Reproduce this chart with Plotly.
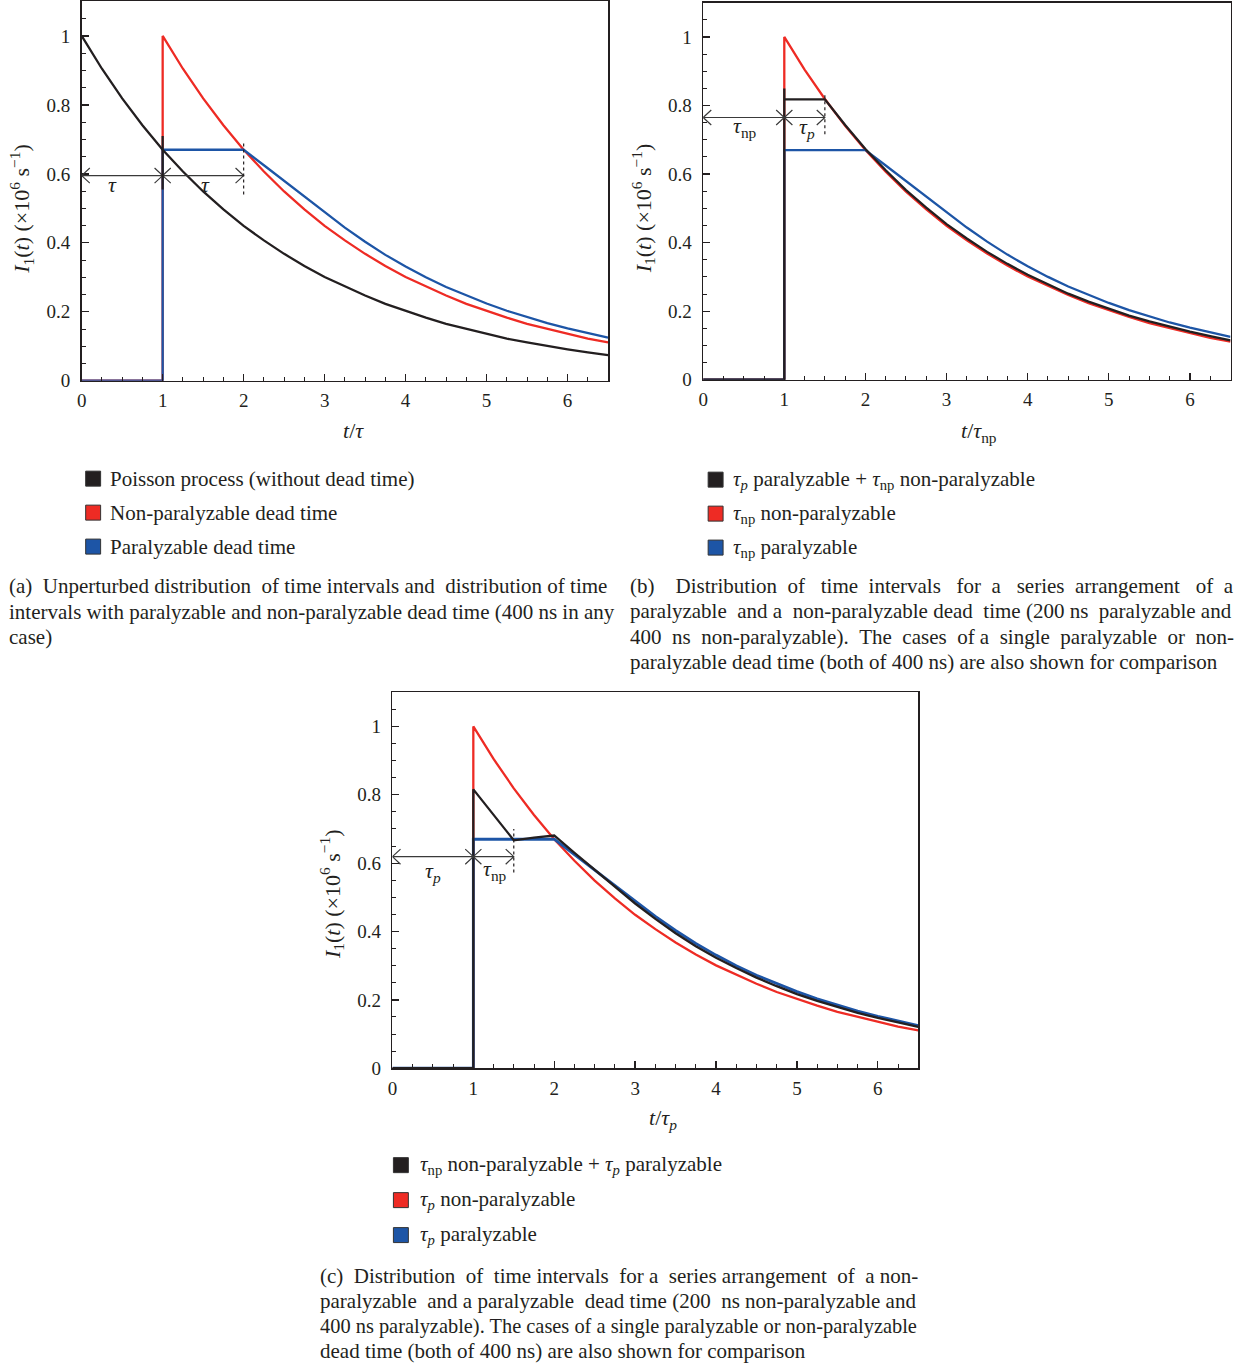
import plotly.graph_objects as go

W, H = 1235, 1367          # reference picture size (pixels)
H_FIG = 1378               # figure height used for the page
FONT = "Liberation Serif"
AX = "#231f20"
TXT = "#231f20"
BLACK = "#231f20"
RED = "#ee2b24"
BLUE = "#1d55a6"
NB = "\u00a0"

# ---------------- data ----------------
# Poisson process, no dead time (panel a)
t_poisson = [0, 0.25, 0.5, 0.75, 1, 1.25, 1.5, 1.75, 2, 2.25, 2.5, 2.75, 3, 3.25,
             3.5, 3.75, 4, 4.25, 4.5, 4.75, 5, 5.25, 5.5, 5.75, 6, 6.25, 6.5]
i_poisson = [1.000, 0.905, 0.819, 0.741, 0.670, 0.607, 0.549, 0.497, 0.449, 0.407,
             0.368, 0.333, 0.301, 0.273, 0.247, 0.223, 0.202, 0.183, 0.165, 0.150,
             0.135, 0.122, 0.111, 0.100, 0.091, 0.082, 0.074]

# Non-paralyzable dead time, 400 ns (all panels)
t_nonpar = [0, 1, 1, 1.25, 1.5, 1.75, 2, 2.25, 2.5, 2.75, 3, 3.25, 3.5, 3.75, 4,
            4.25, 4.5, 4.75, 5, 5.25, 5.5, 5.75, 6, 6.25, 6.5]
i_nonpar = [0, 0, 1.000, 0.905, 0.819, 0.741, 0.670, 0.607, 0.549, 0.497, 0.449,
            0.407, 0.368, 0.333, 0.301, 0.273, 0.247, 0.223, 0.202, 0.183, 0.165,
            0.150, 0.135, 0.122, 0.111]

# Paralyzable dead time, 400 ns (all panels)
t_par = [0, 1, 1, 2, 2.25, 2.5, 2.75, 3, 3.25, 3.5, 3.75, 4, 4.25, 4.5, 4.75, 5,
         5.25, 5.5, 5.75, 6, 6.25, 6.5]
i_par = [0, 0, 0.670, 0.670, 0.625, 0.580, 0.535, 0.490, 0.444, 0.403, 0.365,
         0.331, 0.300, 0.272, 0.247, 0.224, 0.203, 0.184, 0.167, 0.152, 0.138, 0.125]

# Paralyzable 200 ns + non-paralyzable 400 ns (panel b)
t_p_np = [0, 1, 1, 1, 1.5, 1.75, 2, 2.25, 2.5, 2.75, 3, 3.25, 3.5, 3.75, 4, 4.25,
          4.5, 4.75, 5, 5.25, 5.5, 5.75, 6, 6.25, 6.5]
i_p_np = [0, 0, 0.850, 0.818, 0.818, 0.743, 0.673, 0.611, 0.553, 0.502, 0.454,
          0.412, 0.373, 0.338, 0.306, 0.278, 0.251, 0.228, 0.207, 0.187, 0.170,
          0.154, 0.140, 0.127, 0.115]

# Non-paralyzable 200 ns + paralyzable 400 ns (panel c)
t_np_p = [0, 1, 1, 1.5, 1.75, 2, 2.25, 2.5, 2.75, 3, 3.25, 3.5, 3.75, 4, 4.25,
          4.5, 4.75, 5, 5.25, 5.5, 5.75, 6, 6.25, 6.5]
i_np_p = [0, 0, 0.816, 0.667, 0.675, 0.681, 0.630, 0.580, 0.530, 0.482, 0.437,
          0.395, 0.357, 0.323, 0.293, 0.265, 0.240, 0.217, 0.197, 0.179, 0.162,
          0.147, 0.133, 0.121]

x_ticks = [0, 1, 2, 3, 4, 5, 6]
y_ticks = [0, 0.2, 0.4, 0.6, 0.8, 1]
y_tick_text = ["0", "0.2", "0.4", "0.6", "0.8", "1"]

legend_a = ["Poisson process (without dead time)",
            "Non-paralyzable dead time",
            "Paralyzable dead time"]
legend_b = ["<i>τ<sub>p</sub></i> paralyzable + <i>τ</i><sub>np</sub> non-paralyzable",
            "<i>τ</i><sub>np</sub> non-paralyzable",
            "<i>τ</i><sub>np</sub> paralyzable"]
legend_c = ["<i>τ</i><sub>np</sub> non-paralyzable + <i>τ<sub>p</sub></i> paralyzable",
            "<i>τ<sub>p</sub></i> non-paralyzable",
            "<i>τ<sub>p</sub></i> paralyzable"]
legend_colors = [BLACK, RED, BLUE]

# caption lines with number of extra (non-breaking) spaces used to mimic justification
caption_a = [("(a)  Unperturbed distribution of time intervals and distribution of time", 3),
             ("intervals with paralyzable and non-paralyzable dead time (400 ns in any", 0),
             ("case)", 0)]
caption_b = [("(b)  Distribution of time intervals for a series arrangement of a", 17),
             ("paralyzable and a non-paralyzable dead time (200 ns paralyzable and", 4),
             ("400 ns non-paralyzable). The cases of a single paralyzable or non-", 9),
             ("paralyzable dead time (both of 400 ns) are also shown for comparison", 0)]
caption_c = [("(c)  Distribution of time intervals for a series arrangement of a non-", 7),
             ("paralyzable and a paralyzable dead time (200 ns non-paralyzable and", 3),
             ("400 ns paralyzable). The cases of a single paralyzable or non-paralyzable", 0),
             ("dead time (both of 400 ns) are also shown for comparison", 0)]

y_title = "<i>I</i><sub>1</sub>(<i>t</i>) (×10<sup>6</sup> s<sup>−1</sup>)"
x_titles = ["<i>t</i>/<i>τ</i>", "<i>t</i>/<i>τ</i><sub>np</sub>", "<i>t</i>/<i>τ<sub>p</sub></i>"]


def justify(text, extra):
    words = text.split(" ")
    gaps = len(words) - 1
    if gaps <= 0 or extra <= 0:
        return text.replace("  ", " " + NB)
    add = [0] * gaps
    for j in range(extra):
        add[(j * gaps) // extra if extra >= gaps else round(j * gaps / extra) % gaps] += 1
    out = words[0]
    for g in range(gaps):
        w = words[g + 1]
        if w == "":
            out += NB
            continue
        out += " " + NB * add[g] + w
    return out


# ---------------- layout geometry (pixels of the reference) ----------------
def px(x):
    return x / W


def py(y):
    return 1 - y / H


panels = [
    dict(x0=77, x1=605.5, y0=380, y1=0.5),
    dict(x0=701, x1=1230.5, y0=379, y1=1.7),
    dict(x0=389, x1=917, y0=1068, y1=691.8),
]

fig = go.Figure()


def add_line(x, y, color, k, width=2.3):
    sfx = "" if k == 0 else str(k + 1)
    fig.add_trace(go.Scatter(x=x, y=y, mode="lines", line=dict(color=color, width=width),
                             xaxis="x" + sfx, yaxis="y" + sfx, showlegend=False,
                             hoverinfo="skip"))


# panel a
add_line(t_nonpar, i_nonpar, RED, 0)
add_line(t_par, i_par, BLUE, 0)
add_line(t_poisson, i_poisson, BLACK, 0)
# panel b
add_line(t_nonpar, i_nonpar, RED, 1)
add_line(t_par, i_par, BLUE, 1)
add_line(t_p_np, i_p_np, BLACK, 1)
# panel c
add_line(t_nonpar, i_nonpar, RED, 2)
add_line(t_par, i_par, BLUE, 2, width=2.8)
add_line(t_np_p, i_np_p, BLACK, 2)

layout = dict(width=W, height=H_FIG, margin=dict(l=0, r=0, t=0, b=0),
              paper_bgcolor="white", plot_bgcolor="white", showlegend=False)

for k, p in enumerate(panels):
    sfx = "" if k == 0 else str(k + 1)
    xa = dict(domain=[px(p["x0"]), px(p["x1"])], range=[0, 6.5],
              tickvals=x_ticks, ticks="inside", ticklen=7, tickwidth=1.3, tickcolor=AX,
              showline=True, linecolor=AX, linewidth=1.6, mirror=True,
              showgrid=False, zeroline=False,
              minor=dict(ticks="inside", dtick=0.25, tick0=0, ticklen=4, tickwidth=1,
                         tickcolor=AX, showgrid=False),
              tickfont=dict(family=FONT, size=19, color=TXT), ticklabelstandoff=2,
              anchor="y" + sfx, fixedrange=True)
    ya = dict(domain=[py(p["y0"]), py(p["y1"])], range=[0, 1.1],
              tickvals=y_ticks, ticktext=y_tick_text, ticks="inside", ticklen=7,
              tickwidth=1.3, tickcolor=AX,
              showline=True, linecolor=AX, linewidth=1.6, mirror=True,
              showgrid=False, zeroline=False,
              minor=dict(ticks="inside", dtick=0.05, tick0=0, ticklen=4, tickwidth=1,
                         tickcolor=AX, showgrid=False),
              tickfont=dict(family=FONT, size=19, color=TXT), ticklabelstandoff=6,
              anchor="x" + sfx, fixedrange=True)
    layout["xaxis" + sfx] = xa
    layout["yaxis" + sfx] = ya

fig.update_layout(**layout)

annotations = []
shapes = []

# axis titles (as annotations for precise placement)
x_title_pos = [(350, 430), (978, 431), (661, 1119)]
y_title_pos = [(17, 208), (641, 207), (328, 894)]
for k in range(3):
    annotations.append(dict(x=px(x_title_pos[k][0]), y=py(x_title_pos[k][1]), xref="paper",
                            yref="paper", text=x_titles[k], showarrow=False,
                            font=dict(family=FONT, size=22, color=TXT),
                            xanchor="center", yanchor="middle"))
    annotations.append(dict(x=px(y_title_pos[k][0]), y=py(y_title_pos[k][1]), xref="paper",
                            yref="paper", text=y_title, showarrow=False, textangle=-90,
                            font=dict(family=FONT, size=22, color=TXT),
                            xanchor="center", yanchor="middle"))

# dimension arrows: (x start, x end, y) per panel
arrows = [
    [(0, 1, 0.595), (1, 2, 0.595)],
    [(0, 1, 0.765), (1, 1.5, 0.765)],
    [(0, 1, 0.619), (1, 1.5, 0.619)],
]
HX, HY = 0.10, 0.022
for k, arr in enumerate(arrows):
    sfx = "" if k == 0 else str(k + 1)
    for (a, b, yy) in arr:
        path = (f"M{a},{yy} L{b},{yy} "
                f"M{a + HX},{yy + HY} L{a},{yy} L{a + HX},{yy - HY} "
                f"M{b - HX},{yy + HY} L{b},{yy} L{b - HX},{yy - HY}")
        shapes.append(dict(type="path", path=path, xref="x" + sfx, yref="y" + sfx,
                           line=dict(color="#3a3a3a", width=1.2)))

# dotted marker lines: (x, y bottom, y top)
dotted = [(2, 0.54, 0.69), (1.5, 0.716, 0.838), (1.5, 0.573, 0.70)]
for k, (xx, yb, yt) in enumerate(dotted):
    sfx = "" if k == 0 else str(k + 1)
    shapes.append(dict(type="line", x0=xx, x1=xx, y0=yb, y1=yt, xref="x" + sfx,
                       yref="y" + sfx, line=dict(color=BLACK, width=1.2, dash="dot")))

# short black tick at t = tau in panel a
shapes.append(dict(type="line", x0=1, x1=1, y0=0.555, y1=0.71, xref="x", yref="y",
                   line=dict(color=BLACK, width=2.2)))

# tau labels: (x, y, text)
tau_labels = [
    [(0.38, 0.568, "<i>τ</i>"), (1.53, 0.568, "<i>τ</i>")],
    [(0.52, 0.736, "<i>τ</i><sub>np</sub>"), (1.28, 0.733, "<i>τ<sub>p</sub></i>")],
    [(0.50, 0.573, "<i>τ<sub>p</sub></i>"), (1.27, 0.580, "<i>τ</i><sub>np</sub>")],
]
for k, labs in enumerate(tau_labels):
    sfx = "" if k == 0 else str(k + 1)
    for (xx, yy, tx) in labs:
        annotations.append(dict(x=xx, y=yy, xref="x" + sfx, yref="y" + sfx, text=tx,
                                showarrow=False, font=dict(family=FONT, size=22, color=TXT),
                                xanchor="center", yanchor="middle"))

# legends
legend_geom = [
    dict(items=legend_a, sq_x=81, tx_x=103, ys=[478, 512, 546]),
    dict(items=legend_b, sq_x=706, tx_x=729, ys=[479, 513, 547]),
    dict(items=legend_c, sq_x=390, tx_x=415, ys=[1165, 1200, 1235]),
]
SQ = 15
for g in legend_geom:
    for item, yy, col in zip(g["items"], g["ys"], legend_colors):
        shapes.append(dict(type="rect", xref="paper", yref="paper",
                           x0=px(g["sq_x"]), x1=px(g["sq_x"] + SQ),
                           y0=py(yy + SQ / 2), y1=py(yy - SQ / 2),
                           fillcolor=col, line=dict(color="#333333", width=1)))
        annotations.append(dict(x=px(g["tx_x"]), y=py(yy), xref="paper", yref="paper",
                                text=item, showarrow=False, xanchor="left",
                                yanchor="middle",
                                font=dict(family=FONT, size=21, color=TXT)))

# captions
caption_geom = [
    dict(lines=caption_a, x=2, ys=[585, 611, 636]),
    dict(lines=caption_b, x=626, ys=[585, 610, 636, 661]),
    dict(lines=caption_c, x=314, ys=[1276, 1301, 1326, 1351]),
]
for g in caption_geom:
    for (ln, extra), yy in zip(g["lines"], g["ys"]):
        size = 20.4 if ln.startswith("400 ns paralyzable") else 21
        annotations.append(dict(x=px(g["x"]), y=py(yy), xref="paper", yref="paper",
                                text=justify(ln, extra), showarrow=False, xanchor="left",
                                yanchor="middle",
                                font=dict(family=FONT, size=size, color=TXT)))

fig.update_layout(annotations=annotations, shapes=shapes)
fig.write_html(
    "out.html",
    config={"displayModeBar": False, "staticPlot": True},
    post_script=(
        "document.documentElement.style.margin='0';"
        "document.body.style.margin='0';"
        "document.body.style.padding='0';"
    ),
)
